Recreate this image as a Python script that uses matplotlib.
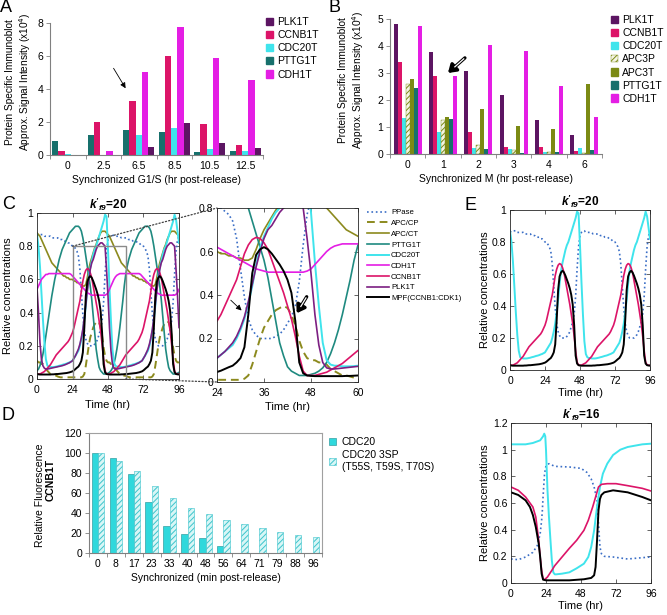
import matplotlib
matplotlib.use('Agg')
import matplotlib.pyplot as plt
import numpy as np
from matplotlib.patches import ConnectionPatch, Rectangle, Patch
from matplotlib.ticker import FuncFormatter, FixedLocator

plt.rcParams['font.family'] = ['Liberation Sans', 'DejaVu Sans']
plt.rcParams['hatch.linewidth'] = 0.7
plt.rcParams['mathtext.fontset'] = 'custom'
plt.rcParams['mathtext.bf'] = 'Liberation Sans:bold'
plt.rcParams['mathtext.it'] = 'Liberation Sans:italic'
try:
    plt.rcParams['mathtext.bfit'] = 'Liberation Sans:bold:italic'
except KeyError:
    pass

# ---------------- DATA ----------------
# Panel A
A_cats = ['0', '2.5', '6.5', '8.5', '10.5', '12.5']
A_PTTG1T = [0.87, 1.19, 1.54, 1.40, 0.20, 0.22]
A_CCNB1T = [0.24, 1.98, 3.30, 6.03, 1.90, 0.59]
A_CDC20T = [0.06, 0.02, 1.21, 1.64, 0.36, 0.26]
A_CDH1T = [0.02, 0.22, 5.00, 7.73, 5.87, 4.55]
A_PLK1T = [0.02, 0.01, 0.51, 1.92, 0.71, 0.40]

# Panel B
B_cats = ['0', '1', '2', '3', '4', '6']
B_PLK1T = [4.80, 3.77, 3.08, 2.20, 1.27, 0.69]
B_CCNB1T = [3.42, 2.88, 0.80, 0.27, 0.25, 0.11]
B_CDC20T = [1.35, 0.81, 0.23, 0.20, 0.08, 0.23]
B_APC3P = [2.59, 1.27, 0.34, 0.13, 0.08, 0.03]
B_APC3T = [2.77, 1.37, 1.65, 1.02, 0.92, 2.60]
B_PTTG1T = [2.44, 1.30, 0.20, 0.02, 0.08, 0.14]
B_CDH1T = [4.74, 2.88, 4.04, 3.80, 2.51, 1.38]

# Panel D
D_cats = ['0', '8', '17', '23', '33', '40', '48', '56', '64', '71', '79', '88', '96']
D_CDC20 = [100, 95, 79.5, 51, 27, 19, 15, 7.3, np.nan, np.nan, np.nan, np.nan, np.nan]
D_CDC20_3SP = [100, 92, 82, 66.6, 54.7, 45.4, 38.8, 33.5, 29.2, 24.9, 20.9, 17.9, 15.9]

# Panel C / E-top simulation (k'f9 = 20), hourly samples 0..96 h
T20 = list(range(0, 97))
PPase = [0.86, 0.87, 0.87, 0.87, 0.87, 0.86, 0.86, 0.86, 0.86, 0.86,
         0.85, 0.85, 0.85, 0.85, 0.85, 0.84, 0.84, 0.84, 0.83, 0.83,
         0.83, 0.82, 0.82, 0.81, 0.80, 0.80, 0.785, 0.77, 0.74, 0.66,
         0.52, 0.39, 0.29, 0.24, 0.215, 0.20, 0.20, 0.20, 0.20, 0.21,
         0.22, 0.24, 0.27, 0.30, 0.35, 0.46, 0.63,
         0.77, 0.84, 0.86, 0.87, 0.87, 0.86, 0.86, 0.86, 0.86, 0.86,
         0.85, 0.85, 0.85, 0.85, 0.85, 0.84, 0.84, 0.84, 0.83, 0.83,
         0.83, 0.82, 0.82, 0.81, 0.80, 0.80, 0.785, 0.77, 0.74, 0.66,
         0.52, 0.39, 0.29, 0.24, 0.215, 0.20, 0.20, 0.20, 0.20, 0.21,
         0.22, 0.24, 0.27, 0.30, 0.35, 0.46, 0.63,
         0.77, 0.84, 0.86]
APC_CP = [0.11, 0.10, 0.10, 0.09, 0.09, 0.08, 0.06, 0.05, 0.04, 0.03,
          0.03, 0.025, 0.02, 0.02, 0.015, 0.012, 0.01, 0.01, 0.01, 0.01,
          0.01, 0.01, 0.01, 0.01, 0.01, 0.01, 0.01, 0.01, 0.01, 0.01,
          0.01, 0.015, 0.03, 0.08, 0.14, 0.20, 0.25, 0.28, 0.31, 0.33,
          0.34, 0.35, 0.34, 0.31, 0.26, 0.19, 0.14,
          0.11, 0.10, 0.10, 0.09, 0.09, 0.08, 0.06, 0.05, 0.04, 0.03,
          0.03, 0.025, 0.02, 0.02, 0.015, 0.012, 0.01, 0.01, 0.01, 0.01,
          0.01, 0.01, 0.01, 0.01, 0.01, 0.01, 0.01, 0.01, 0.01, 0.01,
          0.01, 0.015, 0.03, 0.08, 0.14, 0.20, 0.25, 0.28, 0.31, 0.33,
          0.34, 0.35, 0.34, 0.31, 0.26, 0.19, 0.14,
          0.11, 0.10, 0.10]
APC_CT = [0.88, 0.87, 0.86, 0.84, 0.82, 0.80, 0.78, 0.76, 0.74, 0.72,
          0.70, 0.69, 0.68, 0.67, 0.66, 0.65, 0.64, 0.63, 0.62, 0.62,
          0.61, 0.61, 0.60, 0.60, 0.60, 0.59, 0.59, 0.58, 0.58, 0.57,
          0.57, 0.56, 0.56, 0.57, 0.61, 0.66, 0.70, 0.73, 0.76, 0.79,
          0.81, 0.84, 0.86, 0.88, 0.89, 0.89, 0.89,
          0.88, 0.87, 0.86, 0.84, 0.82, 0.80, 0.78, 0.76, 0.74, 0.72,
          0.70, 0.69, 0.68, 0.67, 0.66, 0.65, 0.64, 0.63, 0.62, 0.62,
          0.61, 0.61, 0.60, 0.60, 0.60, 0.59, 0.59, 0.58, 0.58, 0.57,
          0.57, 0.56, 0.56, 0.57, 0.61, 0.66, 0.70, 0.73, 0.76, 0.79,
          0.81, 0.84, 0.86, 0.88, 0.89, 0.89, 0.89,
          0.88, 0.87, 0.86]
PTTG1T = [0.05, 0.06, 0.08, 0.11, 0.15, 0.20, 0.26, 0.32, 0.38, 0.44,
          0.50, 0.55, 0.60, 0.64, 0.68, 0.72, 0.75, 0.78, 0.80, 0.82,
          0.84, 0.86, 0.88, 0.89, 0.90, 0.91, 0.92, 0.92, 0.92, 0.91,
          0.89, 0.85, 0.80, 0.74, 0.68, 0.62, 0.56, 0.48, 0.38, 0.28,
          0.18, 0.12, 0.07, 0.05, 0.04, 0.03, 0.03,
          0.03, 0.035, 0.04, 0.05, 0.065, 0.09, 0.13, 0.18, 0.24, 0.31,
          0.39, 0.47, 0.56, 0.63, 0.68, 0.72, 0.75, 0.78, 0.80, 0.82,
          0.84, 0.86, 0.88, 0.89, 0.90, 0.91, 0.92, 0.92, 0.92, 0.91,
          0.89, 0.85, 0.80, 0.74, 0.68, 0.62, 0.56, 0.48, 0.38, 0.28,
          0.18, 0.12, 0.07, 0.05, 0.04, 0.03, 0.03,
          0.03, 0.035, 0.04]
CDC20T = [0.87, 0.80, 0.68, 0.52, 0.36, 0.22, 0.12, 0.08, 0.075, 0.072,
          0.072, 0.072, 0.073, 0.075, 0.077, 0.08, 0.082, 0.085, 0.088, 0.09,
          0.093, 0.097, 0.10, 0.105, 0.11, 0.125, 0.14, 0.155, 0.17, 0.20,
          0.24, 0.29, 0.36, 0.44, 0.54, 0.62, 0.67, 0.71, 0.75, 0.78,
          0.80, 0.83, 0.86, 0.89, 0.92, 0.95, 0.99,
          0.98, 0.78, 0.55, 0.35, 0.18, 0.10, 0.08, 0.075, 0.075, 0.072,
          0.072, 0.072, 0.073, 0.075, 0.077, 0.08, 0.082, 0.085, 0.088, 0.09,
          0.093, 0.097, 0.10, 0.105, 0.11, 0.125, 0.14, 0.155, 0.17, 0.20,
          0.24, 0.29, 0.36, 0.44, 0.54, 0.62, 0.67, 0.71, 0.75, 0.78,
          0.80, 0.83, 0.86, 0.89, 0.92, 0.95, 0.99,
          0.96, 0.89, 0.82]
CDH1T = [0.54, 0.56, 0.58, 0.60, 0.61, 0.62, 0.63, 0.63, 0.635, 0.635,
         0.635, 0.635, 0.635, 0.635, 0.635, 0.635, 0.635, 0.635, 0.635, 0.635,
         0.635, 0.635, 0.635, 0.63, 0.62, 0.61, 0.60, 0.59, 0.58, 0.57,
         0.56, 0.55, 0.54, 0.53, 0.52, 0.515, 0.51, 0.505, 0.505, 0.505,
         0.505, 0.505, 0.505, 0.505, 0.505, 0.505, 0.505,
         0.51, 0.52, 0.54, 0.56, 0.58, 0.60, 0.615, 0.625, 0.63, 0.635,
         0.635, 0.635, 0.635, 0.635, 0.635, 0.635, 0.635, 0.635, 0.635, 0.635,
         0.635, 0.635, 0.635, 0.63, 0.62, 0.61, 0.60, 0.59, 0.58, 0.57,
         0.56, 0.55, 0.54, 0.53, 0.52, 0.515, 0.51, 0.505, 0.505, 0.505,
         0.505, 0.505, 0.505, 0.505, 0.505, 0.505, 0.505,
         0.51, 0.52, 0.54]
CCNB1T = [0.03, 0.03, 0.03, 0.035, 0.04, 0.045, 0.055, 0.065, 0.075, 0.085,
          0.10, 0.115, 0.13, 0.145, 0.155, 0.165, 0.175, 0.185, 0.195, 0.205,
          0.215, 0.225, 0.24, 0.26, 0.28, 0.31, 0.35, 0.39, 0.43, 0.47,
          0.53, 0.59, 0.63, 0.655, 0.665, 0.66, 0.64, 0.61, 0.56, 0.51,
          0.46, 0.41, 0.35, 0.29, 0.21, 0.12, 0.05,
          0.03, 0.03, 0.03, 0.035, 0.04, 0.045, 0.055, 0.065, 0.075, 0.085,
          0.10, 0.115, 0.13, 0.145, 0.155, 0.165, 0.175, 0.185, 0.195, 0.205,
          0.215, 0.225, 0.24, 0.26, 0.28, 0.31, 0.35, 0.39, 0.43, 0.47,
          0.53, 0.59, 0.63, 0.655, 0.665, 0.66, 0.64, 0.61, 0.56, 0.51,
          0.46, 0.41, 0.35, 0.29, 0.21, 0.12, 0.05,
          0.03, 0.03, 0.03]
PLK1T = [0.55, 0.40, 0.22, 0.12, 0.08, 0.065, 0.06, 0.06, 0.062, 0.064,
         0.066, 0.068, 0.07, 0.072, 0.074, 0.076, 0.078, 0.08, 0.083, 0.086,
         0.09, 0.094, 0.098, 0.104, 0.11, 0.125, 0.14, 0.16, 0.18, 0.21,
         0.25, 0.30, 0.37, 0.45, 0.53, 0.60, 0.66, 0.70, 0.72, 0.75,
         0.78, 0.80, 0.81, 0.82, 0.82, 0.81, 0.80,
         0.66, 0.50, 0.31, 0.17, 0.09, 0.065, 0.06, 0.06, 0.062, 0.064,
         0.066, 0.068, 0.07, 0.072, 0.074, 0.076, 0.078, 0.08, 0.083, 0.086,
         0.09, 0.094, 0.098, 0.104, 0.11, 0.125, 0.14, 0.16, 0.18, 0.21,
         0.25, 0.30, 0.37, 0.45, 0.53, 0.60, 0.66, 0.70, 0.72, 0.75,
         0.78, 0.80, 0.81, 0.82, 0.82, 0.81, 0.80,
         0.66, 0.50, 0.31]
MPF = [0.03, 0.028, 0.027, 0.027, 0.027, 0.027, 0.027, 0.027, 0.027, 0.027,
       0.028, 0.028, 0.029, 0.03, 0.03, 0.031, 0.032, 0.033, 0.034, 0.035,
       0.036, 0.038, 0.04, 0.043, 0.046, 0.052, 0.06, 0.068, 0.075, 0.09,
       0.11, 0.16, 0.31, 0.50, 0.585, 0.61, 0.62, 0.61, 0.59, 0.565,
       0.54, 0.51, 0.47, 0.41, 0.28, 0.09, 0.04,
       0.03, 0.028, 0.027, 0.027, 0.027, 0.027, 0.027, 0.027, 0.027, 0.027,
       0.028, 0.028, 0.029, 0.03, 0.03, 0.031, 0.032, 0.033, 0.034, 0.035,
       0.036, 0.038, 0.04, 0.043, 0.046, 0.052, 0.06, 0.068, 0.075, 0.09,
       0.11, 0.16, 0.31, 0.50, 0.585, 0.61, 0.62, 0.61, 0.59, 0.565,
       0.54, 0.51, 0.47, 0.41, 0.28, 0.09, 0.04,
       0.03, 0.028, 0.027]

# Panel E-bottom simulation (k'f9 = 16)
E16_CDC20T_t = [0, 10, 15, 20, 22, 22.8, 23.5, 24, 25, 26, 27, 28, 29, 30, 31, 35, 40, 45, 50, 53,
                55, 57, 59, 61, 63, 66, 70, 75, 80, 90, 96]
E16_CDC20T = [1.04, 1.04, 1.05, 1.07, 1.10, 1.12, 1.10, 1.00, 0.70, 0.50, 0.33, 0.17, 0.08, 0.065,
              0.065, 0.07, 0.08, 0.11, 0.145, 0.195, 0.27, 0.395, 0.57, 0.72, 0.82, 0.895, 0.96,
              1.00, 1.02, 1.04, 1.045]
E16_PPase_t = [0, 5, 10, 15, 18, 20, 21, 21.5, 22, 23, 24, 26, 30, 40, 48, 52, 55, 57, 59, 60, 61,
               62, 64, 70, 80, 90, 96]
E16_PPase = [0.18, 0.175, 0.195, 0.23, 0.28, 0.37, 0.47, 0.545, 0.65, 0.82, 0.88, 0.895, 0.875,
             0.87, 0.86, 0.83, 0.78, 0.72, 0.62, 0.445, 0.27, 0.22, 0.20, 0.195, 0.18, 0.19, 0.195]
E16_CCNB1T_t = [0, 5, 10, 15, 17, 19, 20, 21, 22, 23, 25, 28, 30, 35, 40, 45, 50, 53, 56, 58, 60,
                62, 66, 72, 80, 90, 96]
E16_CCNB1T = [0.72, 0.695, 0.645, 0.57, 0.495, 0.32, 0.195, 0.095, 0.03, 0.025, 0.045, 0.095, 0.13,
              0.195, 0.26, 0.32, 0.395, 0.47, 0.57, 0.645, 0.72, 0.74, 0.745, 0.745, 0.73, 0.71, 0.69]
E16_MPF_t = [0, 5, 10, 13, 15, 17, 19, 20, 21, 22, 24, 30, 40, 50, 55, 57, 58, 59, 60, 61, 62, 64,
             70, 80, 90, 96]
E16_MPF = [0.68, 0.66, 0.62, 0.57, 0.51, 0.42, 0.295, 0.195, 0.07, 0.025, 0.02, 0.02, 0.02, 0.028,
           0.038, 0.058, 0.12, 0.32, 0.545, 0.63, 0.66, 0.68, 0.695, 0.68, 0.645, 0.62]

# ---------------- STYLE ----------------
c_plk_bar = '#5c1562'
c_ccnb1 = '#dc1468'
c_cdc20 = '#3fe4ec'
c_pttg1_bar = '#17706c'
c_cdh1 = '#e41ee4'
c_apc3t = '#7b8a14'
c_ppase = '#3a6ec6'
c_apc = '#8c8a1e'
c_pttg1_line = '#1f8a80'
c_plk_line = '#7c1f82'

W, H = 667, 615
fig = plt.figure(figsize=(W / 100, H / 100), dpi=100)


def rect(l, r, t, b):
    return [l / W, 1 - b / H, (r - l) / W, (b - t) / H]


def excel_axes(ax):
    for s in ['top', 'right']:
        ax.spines[s].set_visible(False)
    for s in ['left', 'bottom']:
        ax.spines[s].set_color('#808080')
        ax.spines[s].set_linewidth(0.8)
    ax.tick_params(axis='y', direction='out', length=3, width=0.6, color='#808080', labelsize=7.5, pad=2)
    ax.tick_params(axis='x', which='major', length=0, labelsize=7.5, pad=4)
    ax.tick_params(axis='x', which='minor', direction='out', length=3, width=0.6, color='#808080')


def matlab_axes(ax):
    for s in ax.spines.values():
        s.set_color('#262626')
        s.set_linewidth(0.6)
    ax.tick_params(direction='in', top=True, right=True, length=3, width=0.5,
                   labelsize=7.5, pad=2.5, color='#262626')
    ax.tick_params(axis='x', pad=4)
    ax.yaxis.set_major_formatter(FuncFormatter(lambda v, p: '%g' % round(v, 3)))


def double_arrow(ax, start, end):
    ax.annotate('', xy=end, xytext=start,
                arrowprops=dict(arrowstyle='-|>,head_length=0.45,head_width=0.3', color='black',
                                lw=2.4, mutation_scale=10, shrinkA=0, shrinkB=0), zorder=6)
    sx, sy = start
    ex, ey = end
    ax.plot([sx + (ex - sx) * 0.04, sx + (ex - sx) * 0.62], [sy + (ey - sy) * 0.04, sy + (ey - sy) * 0.62],
            color='white', lw=0.9, solid_capstyle='butt', zorder=7)


# ---------------- PANEL A ----------------
axA = fig.add_axes(rect(50, 263, 23, 155))
xA = np.arange(len(A_cats))
wA = 0.175
A_series = [(A_PTTG1T, c_pttg1_bar), (A_CCNB1T, c_ccnb1), (A_CDC20T, c_cdc20),
            (A_CDH1T, c_cdh1), (A_PLK1T, c_plk_bar)]
for i, (vals, col) in enumerate(A_series):
    axA.bar(xA + (i - 2) * wA, vals, wA, color=col, linewidth=0)
axA.set_xlim(-0.5, len(A_cats) - 0.5)
axA.set_ylim(0, 8)
axA.set_yticks([0, 2, 4, 6, 8])
axA.set_xticks(xA)
axA.set_xticklabels(A_cats)
axA.xaxis.set_minor_locator(FixedLocator(np.arange(-0.5, len(A_cats), 1.0)))
excel_axes(axA)
axA.set_xlabel('Synchronized G1/S (hr post-release)', fontsize=7.5)
axA.xaxis.set_label_coords(0.5, -0.155)
fig.text(19 / W, 1 - 82 / H, 'Protein Specific Immunoblot\nApprox. Signal Intensity (x10$^4$)',
         rotation=90, ha='center', va='center', fontsize=7.3, linespacing=1.15)
A_handles = [Patch(color=c_plk_bar), Patch(color=c_ccnb1), Patch(color=c_cdc20),
             Patch(color=c_pttg1_bar), Patch(color=c_cdh1)]
axA.legend(A_handles, ['PLK1T', 'CCNB1T', 'CDC20T', 'PTTG1T', 'CDH1T'], loc='upper left',
           bbox_to_anchor=(266 / W, 1 - 17 / H), bbox_transform=fig.transFigure, frameon=False,
           fontsize=7.5, handlelength=0.7, handleheight=0.7, handletextpad=0.4, labelspacing=0.3,
           borderaxespad=0, borderpad=0)
axA.annotate('', xy=(1.67, 3.9), xytext=(1.25, 5.4),
             arrowprops=dict(arrowstyle='-|>', color='black', lw=0.6, mutation_scale=8))

# ---------------- PANEL B ----------------
axB = fig.add_axes(rect(390, 602, 19, 154))
xB = np.arange(len(B_cats))
wB = 0.112
B_series = [(B_PLK1T, c_plk_bar, None), (B_CCNB1T, c_ccnb1, None), (B_CDC20T, c_cdc20, None),
            (B_APC3P, 'white', '//////'), (B_APC3T, c_apc3t, None), (B_PTTG1T, c_pttg1_bar, None),
            (B_CDH1T, c_cdh1, None)]
for i, (vals, col, hatch) in enumerate(B_series):
    if hatch:
        axB.bar(xB + (i - 3) * wB, vals, wB, color='#f4f4e4', edgecolor=c_apc3t, hatch=hatch, linewidth=0.3)
    else:
        axB.bar(xB + (i - 3) * wB, vals, wB, color=col, linewidth=0)
axB.set_xlim(-0.5, len(B_cats) - 0.5)
axB.set_ylim(0, 5)
axB.set_yticks([0, 1, 2, 3, 4, 5])
axB.set_xticks(xB)
axB.set_xticklabels(B_cats)
axB.xaxis.set_minor_locator(FixedLocator(np.arange(-0.5, len(B_cats), 1.0)))
excel_axes(axB)
axB.set_xlabel('Synchronized M (hr post-release)', fontsize=7.5)
axB.xaxis.set_label_coords(0.5, -0.15)
fig.text(352 / W, 1 - 80 / H, 'Protein Specific Immunoblot\nApprox. Signal Intensity (x10$^4$)',
         rotation=90, ha='center', va='center', fontsize=7.3, linespacing=1.15)
B_handles = [Patch(color=c_plk_bar), Patch(color=c_ccnb1), Patch(color=c_cdc20),
             Patch(facecolor='#f4f4e4', edgecolor=c_apc3t, hatch='//////', linewidth=0.3),
             Patch(color=c_apc3t), Patch(color=c_pttg1_bar), Patch(color=c_cdh1)]
axB.legend(B_handles, ['PLK1T', 'CCNB1T', 'CDC20T', 'APC3P', 'APC3T', 'PTTG1T', 'CDH1T'],
           loc='upper left', bbox_to_anchor=(611 / W, 1 - 15 / H), bbox_transform=fig.transFigure,
           frameon=False, fontsize=7.5, handlelength=0.7, handleheight=0.7, handletextpad=0.4,
           labelspacing=0.3, borderaxespad=0, borderpad=0)
double_arrow(axB, (1.62, 3.56), (1.14, 3.0))

# ---------------- PANEL C left ----------------
curves = [
    ('PPase', PPase, dict(color=c_ppase, ls=':', lw=1.2)),
    ('APC/CP', APC_CP, dict(color=c_apc, ls=(0, (4, 2.5)), lw=1.4)),
    ('APC/CT', APC_CT, dict(color=c_apc, lw=1.2)),
    ('PTTG1T', PTTG1T, dict(color=c_pttg1_line, lw=1.2)),
    ('CDC20T', CDC20T, dict(color=c_cdc20, lw=1.4)),
    ('CDH1T', CDH1T, dict(color=c_cdh1, lw=1.2)),
    ('CCNB1T', CCNB1T, dict(color=c_ccnb1, lw=1.2)),
    ('PLK1T', PLK1T, dict(color=c_plk_line, lw=1.2)),
    ('MPF(CCNB1:CDK1)', MPF, dict(color='black', lw=1.4)),
]
kt = r"$\mathbfit{k'}_{\mathbfit{f9}}$"

axCL = fig.add_axes(rect(37, 179, 213, 379))
for name, vals, st in curves:
    axCL.plot(T20, vals, **st)
axCL.set_xlim(0, 96)
axCL.set_ylim(0, 1)
axCL.set_xticks([0, 24, 48, 72, 96])
axCL.set_yticks([0, 0.2, 0.4, 0.6, 0.8, 1.0])
matlab_axes(axCL)
axCL.add_patch(Rectangle((24, 0), 36, 0.8, fill=False, edgecolor='#8a8a8a', lw=1.0, zorder=5))
axCL.set_title(kt + '=20', fontsize=8.5, fontweight='bold', pad=3)
axCL.set_xlabel('Time (hr)', fontsize=8)
axCL.xaxis.set_label_coords(0.5, -0.125)
axCL.set_ylabel('Relative concentrations', fontsize=8)
axCL.yaxis.set_label_coords(-0.17, 0.5)

# ---------------- PANEL C right ----------------
axCR = fig.add_axes(rect(217, 358, 208, 382))
handles = []
for name, vals, st in curves:
    ln, = axCR.plot(T20, vals, label=name, **st)
    handles.append(ln)
axCR.set_xlim(24, 60)
axCR.set_ylim(0, 0.8)
axCR.set_xticks([24, 36, 48, 60])
axCR.set_yticks([0, 0.2, 0.4, 0.6, 0.8])
matlab_axes(axCR)
axCR.set_xlabel('Time (hr)', fontsize=8)
axCR.xaxis.set_label_coords(0.5, -0.115)
axCR.legend(handles=handles, loc='upper left', bbox_to_anchor=(367 / W, 1 - 209 / H),
            bbox_transform=fig.transFigure, frameon=False, fontsize=5.6, handlelength=2.8,
            handletextpad=0.3, labelspacing=0.42, borderaxespad=0, borderpad=0)
axCR.annotate('', xy=(30.8, 0.32), xytext=(27.0, 0.385),
              arrowprops=dict(arrowstyle='-|>', color='black', lw=0.6, mutation_scale=8))
double_arrow(axCR, (46.9, 0.392), (44.35, 0.316))

con1 = ConnectionPatch(xyA=(24, 0.8), coordsA=axCL.transData, xyB=(24, 0.8), coordsB=axCR.transData,
                       ls=':', color='#404040', lw=0.9)
con2 = ConnectionPatch(xyA=(60, 0), coordsA=axCL.transData, xyB=(24, 0), coordsB=axCR.transData,
                       ls=':', color='#404040', lw=0.9)
fig.add_artist(con1)
fig.add_artist(con2)

# ---------------- PANEL D ----------------
axD = fig.add_axes(rect(89, 322, 433, 553))
xD = np.arange(len(D_cats))
wD = 0.35
axD.bar(xD - wD / 2, D_CDC20, wD, color='#2fd8dc', edgecolor='#1a8c90', linewidth=0.4)
axD.bar(xD + wD / 2, D_CDC20_3SP, wD, color='#d8f6f6', edgecolor='#3cc4cc', hatch='//////',
        linewidth=0.4)
axD.set_xlim(-0.5, len(D_cats) - 0.5)
axD.set_ylim(0, 120)
axD.set_yticks(range(0, 121, 20))
axD.set_xticks(xD)
axD.set_xticklabels(D_cats)
axD.xaxis.set_minor_locator(FixedLocator(np.arange(-0.5, len(D_cats), 1.0)))
excel_axes(axD)
for s in ['top', 'right']:
    axD.spines[s].set_visible(True)
    axD.spines[s].set_color('#a0a0a0')
    axD.spines[s].set_linewidth(0.8)
axD.set_xlabel('Synchronized (min post-release)', fontsize=7.5)
axD.xaxis.set_label_coords(0.5, -0.165)
fig.text(40 / W, 1 - 495 / H, 'Relative Fluorescence', rotation=90, ha='center', va='center',
         fontsize=7.5)
fig.text(51 / W, 1 - 480 / H, 'CCNB1T', rotation=90, ha='center', va='center', fontsize=7.5,
         fontweight='bold')
D_handles = [Patch(facecolor='#2fd8dc', edgecolor='#1a8c90', linewidth=0.4),
             Patch(facecolor='#d8f6f6', edgecolor='#3cc4cc', hatch='//////', linewidth=0.4)]
axD.legend(D_handles, ['CDC20', 'CDC20 3SP\n(T55S, T59S, T70S)'], loc='upper left',
           bbox_to_anchor=(329 / W, 1 - 437 / H), bbox_transform=fig.transFigure, frameon=False,
           fontsize=7.5, handlelength=0.7, handleheight=0.7, handletextpad=0.5, labelspacing=0.3,
           borderaxespad=0, borderpad=0)

# ---------------- PANEL E top ----------------
axE1 = fig.add_axes(rect(510, 650, 210, 370))
axE1.plot(T20, PPase, color=c_ppase, ls=':', lw=1.2)
axE1.plot(T20, CDC20T, color=c_cdc20, lw=1.4)
axE1.plot(T20, CCNB1T, color=c_ccnb1, lw=1.2)
axE1.plot(T20, MPF, color='black', lw=1.4)
axE1.set_xlim(0, 96)
axE1.set_ylim(0, 1)
axE1.set_xticks([0, 24, 48, 72, 96])
axE1.set_yticks([0, 0.2, 0.4, 0.6, 0.8, 1.0])
matlab_axes(axE1)
axE1.set_title(kt + '=20', fontsize=8.5, fontweight='bold', pad=3)
axE1.set_xlabel('Time (hr)', fontsize=8)
axE1.xaxis.set_label_coords(0.5, -0.11)
axE1.set_ylabel('Relative concentrations', fontsize=8)
axE1.yaxis.set_label_coords(-0.145, 0.5)

# ---------------- PANEL E bottom ----------------
axE2 = fig.add_axes(rect(511, 651, 423, 583))
axE2.plot(E16_PPase_t, E16_PPase, color=c_ppase, ls=':', lw=1.2)
axE2.plot(E16_CDC20T_t, E16_CDC20T, color=c_cdc20, lw=1.4)
axE2.plot(E16_CCNB1T_t, E16_CCNB1T, color=c_ccnb1, lw=1.2)
axE2.plot(E16_MPF_t, E16_MPF, color='black', lw=1.4)
axE2.set_xlim(0, 96)
axE2.set_ylim(0, 1.2)
axE2.set_xticks([0, 24, 48, 72, 96])
axE2.set_yticks([0, 0.2, 0.4, 0.6, 0.8, 1.0, 1.2])
matlab_axes(axE2)
axE2.set_title(kt + '=16', fontsize=8.5, fontweight='bold', pad=3)
axE2.set_xlabel('Time (hr)', fontsize=8)
axE2.xaxis.set_label_coords(0.5, -0.115)
axE2.set_ylabel('Relative concentrations', fontsize=8)
axE2.yaxis.set_label_coords(-0.15, 0.5)

# ---------------- Panel letters ----------------
for lab, x, y in [('A', 6, 7), ('B', 334, 7), ('C', 9, 205), ('D', 8, 416), ('E', 470, 206)]:
    fig.text(x / W, 1 - y / H, lab, fontsize=13, ha='center', va='center')

fig.savefig('out.png', dpi=100)
